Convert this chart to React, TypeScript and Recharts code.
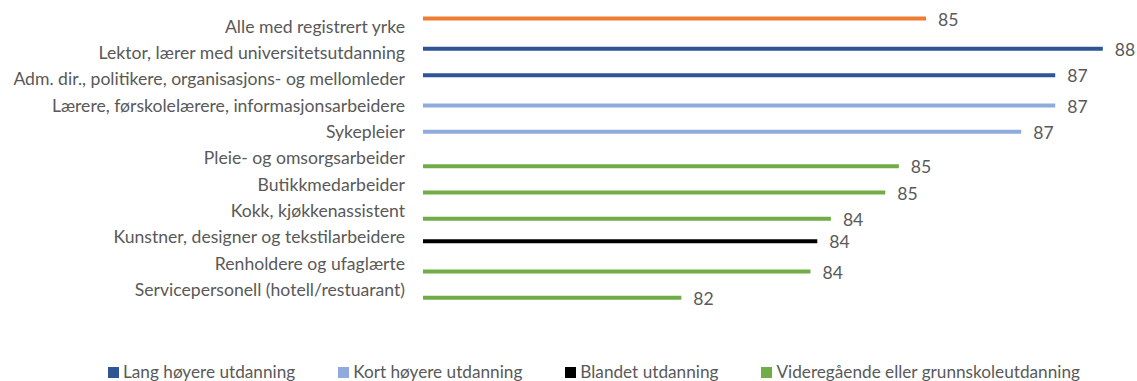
import React from 'react';
import { BarChart, Bar, XAxis, YAxis, LabelList, Legend } from 'recharts';

const FONT = 'Lato, "Liberation Sans", sans-serif';
const TEXT = '#595959';
const FS = 17.6;
const LEGEND_FS = 17.2;

const categories = [
  'Alle med registrert yrke',
  'Lektor, lærer med universitetsutdanning',
  'Adm. dir., politikere, organisasjons- og mellomleder',
  'Lærere, førskolelærere, informasjonsarbeidere',
  'Sykepleier',
  'Pleie- og omsorgsarbeider',
  'Butikkmedarbeider',
  'Kokk, kjøkkenassistent',
  'Kunstner, designer og tekstilarbeidere',
  'Renholdere og ufaglærte',
  'Servicepersonell (hotell/restuarant)',
];

const alleValues = [85.4, null, null, null, null, null, null, null, null, null, null];
const langValues = [null, 88.0, 87.3, null, null, null, null, null, null, null, null];
const kortValues = [null, null, null, 87.3, 86.8, null, null, null, null, null, null];
const blandetValues = [null, null, null, null, null, null, null, null, 83.8, null, null];
const videreValues = [null, null, null, null, null, 85.0, 84.8, 84.0, null, 83.7, 81.8];

const seriesNames = [
  'Alle med registrert yrke',
  'Lang høyere utdanning',
  'Kort høyere utdanning',
  'Blandet utdanning',
  'Videregående eller grunnskoleutdanning',
];
const seriesColors = ['#ED7D31', '#2F5597', '#8FAADC', '#000000', '#70AD47'];
const seriesKeys = ['alle', 'lang', 'kort', 'blandet', 'videre'];
const seriesValues = [alleValues, langValues, kortValues, blandetValues, videreValues];

const data = categories.map((name, i) => {
  const row: Record<string, any> = { name };
  seriesKeys.forEach((k, s) => {
    row[k] = seriesValues[s][i];
  });
  return row;
});

const YTick = (props: any) => {
  const { x, y, payload } = props;
  return (
    <text x={x} y={y} dy={6} textAnchor="end" fill={TEXT} fontSize={FS} fontFamily={FONT}>
      {payload.value}
    </text>
  );
};

const ValueLabel = (props: any) => {
  const { x, y, width, height, value } = props;
  if (value === null || value === undefined) return null;
  return (
    <text
      x={x + width + 12}
      y={y + height / 2}
      dy={7}
      textAnchor="start"
      fill={TEXT}
      fontSize={FS}
      fontFamily={FONT}
    >
      {Math.round(value)}
    </text>
  );
};

const renderLegend = (props: any) => {
  const items = (props.payload || [])
    .filter((p: any) => p.value !== seriesNames[0])
    .sort((a: any, b: any) => seriesNames.indexOf(a.value) - seriesNames.indexOf(b.value));
  return (
    <div style={{ display: 'flex', alignItems: 'center', fontFamily: FONT, fontSize: LEGEND_FS, color: TEXT, whiteSpace: 'nowrap', lineHeight: '22px' }}>
      {items.map((p: any, i: number) => (
        <div key={i} style={{ display: 'flex', alignItems: 'center', marginRight: 43 }}>
          <span style={{ display: 'inline-block', width: 11, height: 11, background: p.color, marginRight: 4 }} />
          <span>{p.value}</span>
        </div>
      ))}
    </div>
  );
};

export default function App() {
  return (
    <div style={{ position: 'absolute', left: 0, top: 0, width: 1137, height: 381, background: '#fff' }}>
      <BarChart
        width={1137}
        height={381}
        data={data}
        layout="vertical"
        margin={{ top: 13.5, right: 7, bottom: 77.8, left: 0 }}
        barSize={4}
        barGap={0}
      >
        <XAxis type="number" domain={[78, 88.4]} hide allowDataOverflow />
        <YAxis
          type="category"
          dataKey="name"
          width={423}
          tickLine={false}
          axisLine={false}
          tickSize={0}
          tickMargin={18}
          interval={0}
          tick={<YTick />}
        />
        <Legend
          layout="horizontal"
          verticalAlign="middle"
          align="center"
          content={renderLegend}
          wrapperStyle={{ position: 'absolute', left: 108, top: 361, width: 1020, height: 22 }}
        />
        {seriesKeys.map((k, s) => (
          <Bar key={k} dataKey={k} name={seriesNames[s]} fill={seriesColors[s]} isAnimationActive={false}>
            <LabelList dataKey={k} content={<ValueLabel />} />
          </Bar>
        ))}
      </BarChart>
    </div>
  );
}
